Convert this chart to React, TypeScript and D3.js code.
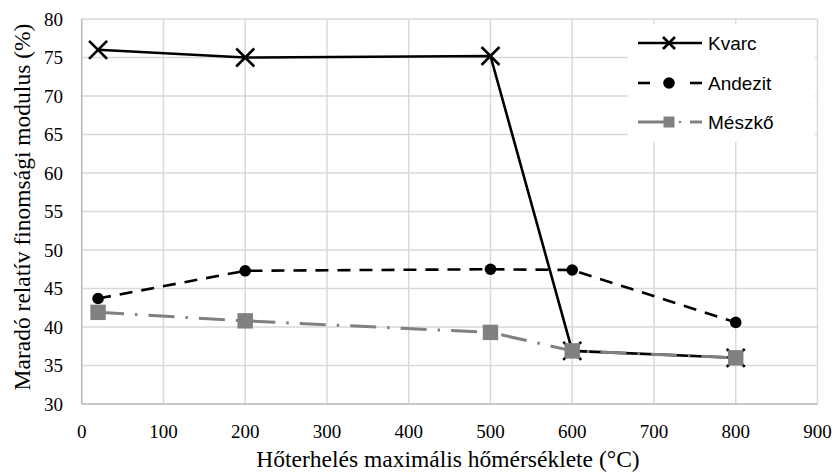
import React from "react";
import * as d3 from "d3";

const temps = [20, 200, 500, 600, 800];
const kvarc = [76, 75, 75.2, 36.9, 36];
const andezit = [43.7, 47.3, 47.5, 47.4, 40.6];
const meszko = [41.9, 40.8, 39.3, 36.9, 36];
const xTicks = [0, 100, 200, 300, 400, 500, 600, 700, 800, 900];
const yTicks = [30, 35, 40, 45, 50, 55, 60, 65, 70, 75, 80];
const seriesNames = ["Kvarc", "Andezit", "Mészkő"];

const W = 835, H = 472;
const x = d3.scaleLinear().domain([0, 900]).range([81.7, 817.5]);
const y = d3.scaleLinear().domain([30, 80]).range([404, 19]);

function XMark({ cx, cy, s = 9 }: { cx: number; cy: number; s?: number }) {
  return (
    <g stroke="#000" strokeWidth={2.6}>
      <line x1={cx - s} y1={cy - s} x2={cx + s} y2={cy + s} />
      <line x1={cx - s} y1={cy + s} x2={cx + s} y2={cy - s} />
    </g>
  );
}

export default function App() {
  const line = d3.line<number>().x((_, i) => x(temps[i])).y((d) => y(d));
  const serif = "'Liberation Serif', 'Times New Roman', serif";
  const sans = "'Liberation Sans', Arial, sans-serif";
  const grey = "#808080";
  return (
    <svg width={W} height={H} style={{ position: "absolute", left: 0, top: 0 }}>
      <rect x={0} y={0} width={W} height={H} fill="#fff" />
      {yTicks.map((t) => (
        <line key={"gy" + t} x1={x(0)} x2={x(900)} y1={y(t)} y2={y(t)} stroke="#d9d9d9" strokeWidth={1.5} />
      ))}
      {xTicks.map((t) => (
        <line key={"gx" + t} x1={x(t)} x2={x(t)} y1={y(30)} y2={y(80)} stroke="#d9d9d9" strokeWidth={1.5} />
      ))}
      <line x1={x(0)} x2={x(900)} y1={y(30)} y2={y(30)} stroke="#bfbfbf" strokeWidth={1.5} />
      <line x1={x(0)} x2={x(0)} y1={y(30)} y2={y(80)} stroke="#bfbfbf" strokeWidth={1.5} />
      {yTicks.map((t) => (
        <text key={"ly" + t} x={63} y={y(t)} dy="0.35em" textAnchor="end" fontFamily={serif} fontSize={19} fill="#000">{t}</text>
      ))}
      {xTicks.map((t) => (
        <text key={"lx" + t} x={x(t)} y={438} textAnchor="middle" fontFamily={serif} fontSize={19} fill="#000">{t}</text>
      ))}
      <text x={448} y={467} textAnchor="middle" fontFamily={serif} fontSize={23.5}>Hőterhelés maximális hőmérséklete (°C)</text>
      <text transform="translate(30,207) rotate(-90)" textAnchor="middle" fontFamily={serif} fontSize={23.5}>Maradó relatív finomsági modulus (%)</text>

      {/* Kvarc */}
      <path d={line(kvarc) || ""} fill="none" stroke="#000" strokeWidth={2.6} />
      {kvarc.map((v, i) => <XMark key={"k" + i} cx={x(temps[i])} cy={y(v)} />)}
      {/* Andezit */}
      <path d={line(andezit) || ""} fill="none" stroke="#000" strokeWidth={2.6} strokeDasharray="13,9" />
      {andezit.map((v, i) => <circle key={"a" + i} cx={x(temps[i])} cy={y(v)} r={5.8} fill="#000" />)}
      {/* Meszko */}
      <path d={line(meszko) || ""} fill="none" stroke={grey} strokeWidth={3} strokeDasharray="26,11,2.5,11" />
      {meszko.map((v, i) => (
        <rect key={"m" + i} x={x(temps[i]) - 7.7} y={y(v) - 7.7} width={15.4} height={15.4} fill={grey} />
      ))}

      {/* Legend */}
      <rect x={628} y={24} width={187} height={118} fill="#fff" />
      <line x1={638} x2={702} y1={43} y2={43} stroke="#000" strokeWidth={2.6} />
      <XMark cx={669} cy={43} s={6} />
      <text x={708} y={43} dy="0.36em" fontFamily={sans} fontSize={19}>{seriesNames[0]}</text>
      <line x1={638} x2={650} y1={83} y2={83} stroke="#000" strokeWidth={2.6} />
      <line x1={690} x2={702} y1={83} y2={83} stroke="#000" strokeWidth={2.6} />
      <circle cx={669} cy={83} r={5.8} fill="#000" />
      <text x={708} y={83} dy="0.36em" fontFamily={sans} fontSize={19}>{seriesNames[1]}</text>
      <line x1={638} x2={665} y1={122} y2={122} stroke={grey} strokeWidth={3} />
      <line x1={690} x2={702} y1={122} y2={122} stroke={grey} strokeWidth={3} />
      <circle cx={680} cy={122} r={1.3} fill={grey} />
      <rect x={663.5} y={116.5} width={11} height={11} fill={grey} />
      <text x={708} y={122} dy="0.36em" fontFamily={sans} fontSize={19}>{seriesNames[2]}</text>
    </svg>
  );
}
